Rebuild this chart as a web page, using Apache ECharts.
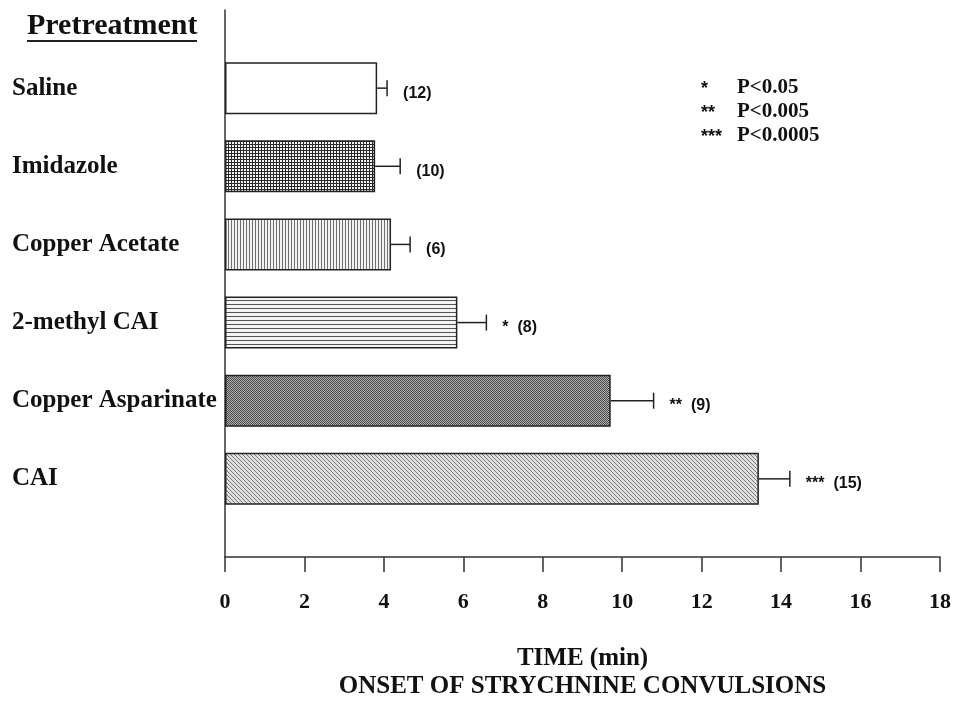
<!DOCTYPE html>
<html><head><meta charset="utf-8">
<script src="https://cdn.jsdelivr.net/npm/echarts@6/dist/echarts.min.js"></script>
<style>html,body{margin:0;padding:0;background:#fff}#c{width:956px;height:706px}</style>
</head><body><div id="c"></div>
<script>
const categories = ['Saline','Imidazole','Copper Acetate','2-methyl CAI','Copper Asparinate','CAI'];
const meanTimes = [3.83, 3.78, 4.18, 5.85, 9.71, 13.44];
const semTimes = [0.25, 0.63, 0.48, 0.73, 1.08, 0.78];
const nCounts = [12, 10, 6, 8, 9, 15];
const sigMarks = ['', '', '', '*', '**', '***'];
const sigStars = ['*', '**', '***'];
const sigLabels = ['P<0.05', 'P<0.005', 'P<0.0005'];
const xMin = 0, xMax = 18, xStep = 2;

function pat(w, h, draw) {
  const c = document.createElement('canvas'); c.width = w; c.height = h;
  const g = c.getContext('2d'); draw(g, w, h);
  return { image: c, repeat: 'repeat' };
}
const patterns = [
  '#ffffff',
  pat(3, 3, (g) => { g.fillStyle = '#f4f4f4'; g.fillRect(0,0,3,3); g.fillStyle = '#2a2a2a'; g.fillRect(0,0,3,1); g.fillRect(0,0,1,3); }),
  pat(3, 3, (g) => { g.fillStyle = '#f2f2f2'; g.fillRect(0,0,3,3); g.fillStyle = '#707070'; g.fillRect(0,0,1,3); }),
  pat(4, 4, (g) => { g.fillStyle = '#f4f4f4'; g.fillRect(0,0,4,4); g.fillStyle = '#555555'; g.fillRect(0,0,4,1); }),
  pat(2, 2, (g) => { g.fillStyle = '#b0b0b0'; g.fillRect(0,0,2,2); g.fillStyle = '#4a4a4a'; g.fillRect(0,0,1,1); g.fillRect(1,1,1,1); }),
  pat(4, 4, (g) => { g.fillStyle = '#dedede'; g.fillRect(0,0,4,4); g.fillStyle = '#7c7c7c'; for (let i = 0; i < 4; i++) g.fillRect(i, i, 1, 1); })
];

const serif = '"Liberation Serif", "DejaVu Serif", serif';
const sans = '"Liberation Sans", Arial, sans-serif';
const yCats = [''].concat(categories, ['']);

const chart = echarts.init(document.getElementById('c'), null, { renderer: 'canvas' });
chart.setOption({
  animation: false,
  backgroundColor: '#fff',
  grid: { left: 225, right: 16, top: 10, bottom: 142, containLabel: false },
  xAxis: {
    type: 'value', min: xMin, max: xMax, interval: xStep, position: 'bottom',
    axisLine: { show: true, onZero: false, lineStyle: { color: '#333', width: 1.5 } },
    axisTick: { show: true, length: 15, lineStyle: { color: '#333', width: 1.5 } },
    splitLine: { show: false },
    axisLabel: { color: '#111', fontFamily: serif, fontWeight: 'bold', fontSize: 22, margin: 34 },
    name: 'TIME (min)\nONSET OF STRYCHNINE CONVULSIONS',
    nameLocation: 'middle', nameGap: 88,
    nameTextStyle: { color: '#111', fontFamily: serif, fontWeight: 'bold', fontSize: 25, lineHeight: 28 }
  },
  yAxis: {
    type: 'category', data: yCats, inverse: true, boundaryGap: false,
    axisLine: { show: true, lineStyle: { color: '#333', width: 1.5 } },
    axisTick: { show: false },
    splitLine: { show: false },
    axisLabel: { align: 'left', margin: 213, color: '#111', fontFamily: serif, fontWeight: 'bold', fontSize: 25, interval: 0 }
  },
  series: [
    {
      type: 'bar', barWidth: 52,
      data: ['-'].concat(meanTimes.map((v, i) => ({ value: v, itemStyle: { color: patterns[i], borderColor: '#222', borderWidth: 1.5 } })), ['-'])
    },
    {
      type: 'custom',
      data: meanTimes.map((v, i) => [v, i + 1, semTimes[i]]),
      encode: { x: 0, y: 1 },
      z: 5,
      renderItem: function (params, api) {
        const m = api.value(0), yi = api.value(1), e = api.value(2);
        const p0 = api.coord([m, yi]);
        const p1 = api.coord([m + e, yi]);
        const i = params.dataIndex;
        const txt = (sigMarks[i] ? sigMarks[i] + '  ' : '') + '(' + nCounts[i] + ')';
        return {
          type: 'group',
          children: [
            { type: 'line', shape: { x1: p0[0], y1: p0[1], x2: p1[0], y2: p1[1] }, style: { stroke: '#222', lineWidth: 1.5 } },
            { type: 'line', shape: { x1: p1[0], y1: p1[1] - 8, x2: p1[0], y2: p1[1] + 8 }, style: { stroke: '#222', lineWidth: 1.5 } },
            { type: 'text', style: { text: txt, x: p1[0] + 16, y: p1[1] + 5, fill: '#111', font: 'bold 16px ' + sans, align: 'left', verticalAlign: 'middle' } }
          ]
        };
      }
    }
  ],
  graphic: [
    { type: 'text', left: 27, top: 11, style: { text: 'Pretreatment', fill: '#111', font: 'bold 30px ' + serif } },
    { type: 'line', shape: { x1: 27, y1: 41, x2: 197, y2: 41 }, style: { stroke: '#222', lineWidth: 2 } }
  ].concat(sigStars.map((s, i) => ({ type: 'text', left: 701, top: 80 + i * 24, style: { text: s, fill: '#111', font: 'bold 18px ' + sans } })))
   .concat(sigLabels.map((s, i) => ({ type: 'text', left: 737, top: 77 + i * 24, style: { text: s, fill: '#111', font: 'bold 21px ' + serif } })))
});
</script></body></html>
